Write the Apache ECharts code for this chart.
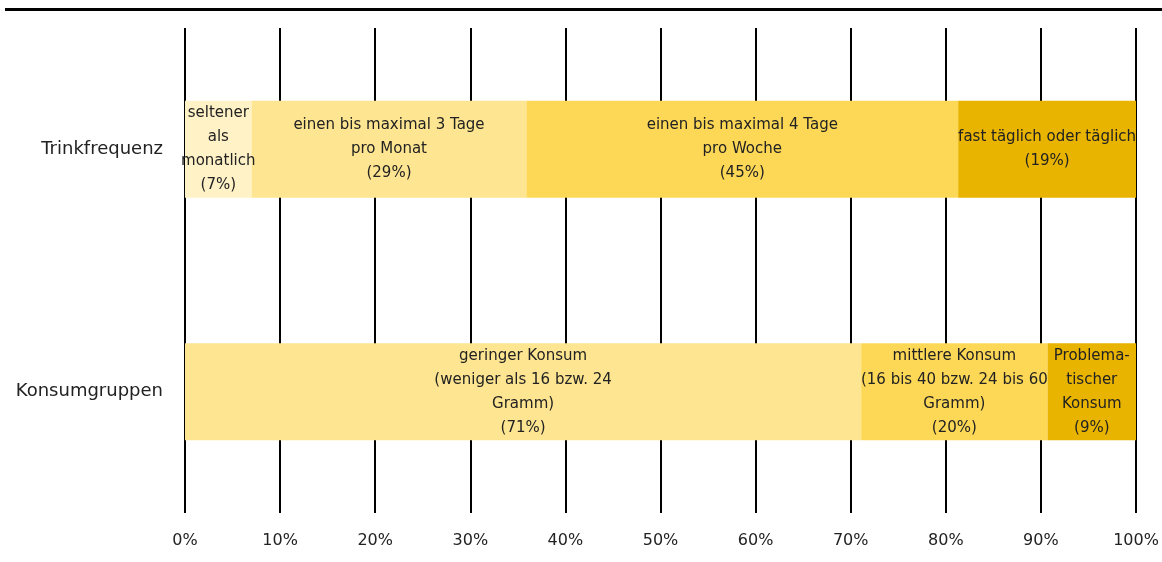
<!DOCTYPE html>
<html>
<head>
<meta charset="utf-8">
<title>Trinkfrequenz und Konsumgruppen</title>
<script src="https://cdn.jsdelivr.net/npm/echarts@6/dist/echarts.min.js"></script>
<style>
  html, body { margin: 0; padding: 0; background: #fff; }
  #chart { width: 1162px; height: 562px; }
</style>
</head>
<body>
<div id="chart"></div>
<script>
// Kategorien (von oben nach unten)
const categories = ['Trinkfrequenz', 'Konsumgruppen'];

// Trinkfrequenz - Segmentlängen (aus dem Bild gemessen) und Beschriftungen
const frequencyValues = [7.0, 28.9, 45.4, 18.7];
const frequencyLabels = [
  'seltener\nals\nmonatlich\n(7%)',
  'einen bis maximal 3 Tage\npro Monat\n(29%)',
  'einen bis maximal 4 Tage\npro Woche\n(45%)',
  'fast täglich oder täglich\n(19%)'
];

// Konsumgruppen
const consumptionValues = [71.1, 19.6, 9.3];
const consumptionLabels = [
  'geringer Konsum\n(weniger als 16 bzw. 24\nGramm)\n(71%)',
  'mittlere Konsum\n(16 bis 40 bzw. 24 bis 60\nGramm)\n(20%)',
  'Problema-\ntischer\nKonsum\n(9%)'
];

// Achsenbeschriftungen
const tickLabels = ['0%', '10%', '20%', '30%', '40%', '50%', '60%', '70%', '80%', '90%', '100%'];

const frequencyColors = ['#FFF2C7', '#FEE591', '#FDD857', '#E8B400'];
const consumptionColors = ['#FEE591', '#FDD857', '#E8B400'];
const fontFamily = '"DejaVu Sans", sans-serif';

// Serien aufbauen: Serie i = Segment i in beiden Zeilen
const series = [];
for (let i = 0; i < frequencyValues.length; i++) {
  const data = [
    { value: frequencyValues[i], label: { formatter: frequencyLabels[i] }, itemStyle: { color: frequencyColors[i] } }
  ];
  if (i < consumptionValues.length) {
    data.push({ value: consumptionValues[i], label: { formatter: consumptionLabels[i] }, itemStyle: { color: consumptionColors[i] } });
  } else {
    data.push('-');
  }
  series.push({
    type: 'bar',
    stack: 'total',
    barWidth: '40%',
    data: data,
    label: {
      show: true,
      position: 'inside',
      color: '#222',
      fontSize: 15,
      lineHeight: 24,
      fontFamily: fontFamily
    },
    emphasis: { disabled: true }
  });
}

const chart = echarts.init(document.getElementById('chart'));
chart.setOption({
  animation: false,
  grid: { left: 185, right: 26, top: 28, bottom: 49 },
  graphic: [
    { type: 'rect', left: 5, top: 8, shape: { width: 1157, height: 3 }, style: { fill: '#000' } }
  ],
  xAxis: {
    type: 'value',
    min: 0,
    max: 100,
    interval: 10,
    axisLine: { show: false },
    axisTick: { show: false },
    splitLine: { show: true, lineStyle: { color: '#000', width: 2 } },
    axisLabel: {
      margin: 20,
      color: '#222',
      fontSize: 16,
      fontFamily: fontFamily,
      formatter: function (v) { return tickLabels[Math.round(v / 10)]; }
    }
  },
  yAxis: {
    type: 'category',
    inverse: true,
    data: categories,
    axisLine: { show: false },
    axisTick: { show: false },
    axisLabel: { margin: 22, color: '#222', fontSize: 18, fontFamily: fontFamily }
  },
  series: series
});
</script>
</body>
</html>
